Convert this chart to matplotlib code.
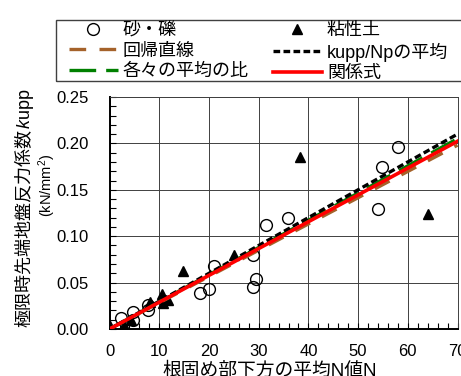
import matplotlib
matplotlib.use("Agg")
import matplotlib.pyplot as plt
import numpy as np
from matplotlib.ticker import MultipleLocator
from matplotlib.lines import Line2D
from matplotlib.patches import Rectangle

plt.rcParams['font.family'] = ['Liberation Sans', 'Noto Sans CJK JP']
plt.rcParams['mathtext.fontset'] = 'custom'
plt.rcParams['mathtext.it'] = 'Liberation Sans:italic'
plt.rcParams['mathtext.rm'] = 'Liberation Sans'

# 砂・礫
sand_n = [2.2, 4.8, 4.8, 7.8, 7.8, 18.2, 19.9, 21.0, 28.8, 29.4, 28.8, 31.5, 35.8, 54.1, 54.9, 58.0]
sand_k = [0.012, 0.0185, 0.010, 0.020, 0.026, 0.039, 0.043, 0.068, 0.045, 0.0535, 0.080, 0.112, 0.120, 0.129, 0.1745, 0.196]

# 粘性土
clay_n = [0.0, 2.8, 4.4, 8.1, 10.5, 10.8, 11.8, 14.8, 25.1, 38.3, 64.0]
clay_k = [0.003, 0.004, 0.010, 0.029, 0.038, 0.0275, 0.031, 0.063, 0.080, 0.185, 0.124]

# 原点を通る直線の傾き
slope_reg = 0.00283    # 回帰直線
slope_mean = 0.00300   # kupp/Npの平均
slope_ratio = 0.00293  # 各々の平均の比
slope_eq = 0.00289     # 関係式

n_line = np.array([0, 70])

W, H = 461, 376
fig = plt.figure(figsize=(W / 100, H / 100), dpi=100)
ax = fig.add_axes([109.6 / W, 1 - 329 / H, (457.5 - 109.6) / W, (329 - 97) / H])

ax.plot(sand_n, sand_k, 'o', mfc='none', mec='k', ms=8.5, mew=1.0, ls='none', zorder=3)
ax.plot(clay_n, clay_k, '^', color='k', ms=7, ls='none', zorder=3)

ax.plot(n_line, slope_reg * n_line, color='#A5622A', lw=2.4, dashes=(5, 4), zorder=4)
ax.plot(n_line, slope_ratio * n_line, color='#008000', lw=2.4, dashes=(8, 3), zorder=4)
ax.plot(n_line, slope_mean * n_line, color='k', lw=2.4, dashes=(2, 1), zorder=5)
ax.plot(n_line, slope_eq * n_line, color='#FF0000', lw=2.6, zorder=6)

ax.set_xlim(0, 70)
ax.set_ylim(0, 0.25)
ax.xaxis.set_major_locator(MultipleLocator(10))
ax.xaxis.set_minor_locator(MultipleLocator(2))
ax.yaxis.set_major_locator(MultipleLocator(0.05))
ax.yaxis.set_minor_locator(MultipleLocator(0.01))
ax.yaxis.set_major_formatter(lambda v, p: f"{v:.2f}")
ax.grid(True, which='major', color='#404040', lw=0.7)
ax.set_axisbelow(True)
ax.tick_params(which='both', direction='in', length=4, width=0.8, labelsize=12)
ax.tick_params(axis='y', pad=15)
ax.tick_params(axis='x', pad=11)
for s in ['left', 'bottom']:
    ax.spines[s].set_linewidth(1.4)
for s in ['top', 'right']:
    ax.spines[s].set_linewidth(0.7)
    ax.spines[s].set_color('#404040')

# 縦軸ラベル（1行目は日本語部分と kupp を分けて描く）
yl1 = fig.text(25 / W, 1 - 327 / H, '極限時先端地盤反力係数', rotation=90,
               ha='center', va='bottom', fontsize=13)
fig.canvas.draw()
top = yl1.get_window_extent().y1 / H
fig.text(25 / W, top, '$k$upp', rotation=90, ha='center', va='bottom', fontsize=13)
fig.text(47 / W, 1 - 185 / H, '(kN/mm$^2$)', rotation=90, ha='center', va='center', fontsize=10.5)
fig.text(162 / W, 1 - 363 / H, '根固め部下方の平均N値N', ha='left', va='top', fontsize=13.5)

# 凡例
fig.patches.append(Rectangle((56 / W, 1 - 81 / H), 420 / W, 61 / H, transform=fig.transFigure,
                             fill=False, edgecolor='#404040', lw=1.0))
handles = [
    Line2D([], [], marker='o', mfc='none', mec='k', ms=8.5, mew=1.0, ls='none'),
    Line2D([], [], color='#A5622A', lw=2.4, dashes=(5, 4)),
    Line2D([], [], color='#008000', lw=2.4, dashes=(8, 3)),
    Line2D([], [], marker='^', color='k', ms=7, ls='none'),
    Line2D([], [], color='k', lw=2.4, dashes=(2, 1)),
    Line2D([], [], color='#FF0000', lw=2.6),
]
labels = ['砂・礫', '回帰直線', '各々の平均の比', '粘性土', 'kupp/Npの平均', '関係式']
fig.legend(handles, labels, ncol=2, loc='upper left',
           bbox_to_anchor=(69 / W, 1 - 22 / H), fontsize=13, frameon=False,
           handlelength=2.71, handletextpad=0.28, columnspacing=1.33,
           labelspacing=0.2, borderpad=0, borderaxespad=0)

fig.savefig('out.png', dpi=100)
